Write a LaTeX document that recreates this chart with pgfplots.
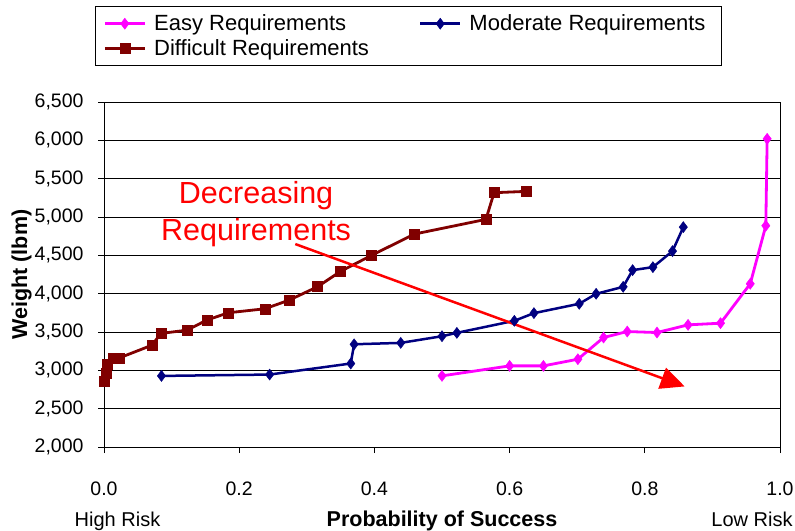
\documentclass[border=0pt]{standalone}
\usepackage{fontspec}
\setmainfont{Liberation Sans}
\usepackage{pgfplots}
\pgfplotsset{compat=1.18}
\usetikzlibrary{arrows.meta}
\definecolor{easyc}{HTML}{FF00FF}
\definecolor{modc}{HTML}{000080}
\definecolor{difc}{HTML}{800000}
\begin{document}
\begin{tikzpicture}
\begin{axis}[
  width=676bp, height=345bp, scale only axis,
  xmin=0, xmax=1, ymin=2000, ymax=6500,
  xtick={0,0.2,0.4,0.6,0.8,1.0},
  ytick={2000,2500,3000,3500,4000,4500,5000,5500,6000,6500},
  /pgf/number format/assume math mode=true,
  xticklabel style={/pgf/number format/fixed, /pgf/number format/fixed zerofill, /pgf/number format/precision=1, yshift=-25bp},
  yticklabel style={/pgf/number format/1000 sep={,}, xshift=-11bp},
  tick label style={font=\fontsize{19.5bp}{24bp}\selectfont},
  tick align=outside, tick pos=left, major tick length=6bp,
  ymajorgrids, grid style={black, line width=0.8bp},
  axis line style={black, line width=0.8bp},
  every tick/.style={black, line width=0.8bp},
  xlabel={\bfseries Probability of Success},
  xlabel style={at={(axis description cs:0.5,0)}, anchor=base, yshift=-79bp, font=\fontsize{21.5bp}{24bp}\selectfont},
  ylabel={\bfseries Weight (lbm)},
  ylabel style={at={(axis description cs:-0.122,0.5)}, anchor=center, font=\fontsize{21.5bp}{24bp}\selectfont},
  legend columns=2,
  legend cell align=left,
  legend style={at={(rel axis cs:-0.0133,1.278)}, anchor=north west, draw=black, line width=0.8bp,
    font=\fontsize{22bp}{26bp}\selectfont, inner xsep=8bp, inner ysep=5bp,
    nodes={inner xsep=8bp, inner ysep=3.5bp},
    /tikz/every even column/.append style={column sep=42bp}},
  legend image code/.code={\draw[mark repeat=2, mark phase=2] plot coordinates {(0bp,0bp) (20bp,0bp) (40bp,0bp)};},
]
\addplot[easyc, line width=2.8bp, mark=diamond*, mark size=5.5bp, mark options={solid, fill=easyc, line width=0.5bp}] coordinates {
(0.500,2928) (0.600,3058) (0.650,3058) (0.701,3145) (0.739,3428) (0.774,3506) (0.818,3493) (0.864,3593) (0.912,3615) (0.956,4129) (0.979,4886) (0.981,6020)};
\addlegendentry{Easy Requirements}
\addplot[modc, line width=2.5bp, mark=diamond*, mark size=5.5bp, mark options={solid, fill=modc, line width=0.5bp}] coordinates {
(0.085,2927) (0.245,2945) (0.365,3089) (0.370,3340) (0.439,3358) (0.500,3445) (0.522,3489) (0.607,3646) (0.636,3746) (0.703,3868) (0.728,3998) (0.768,4089) (0.782,4307) (0.812,4346) (0.841,4555) (0.857,4868)};
\addlegendentry{Moderate Requirements}
\addplot[difc, line width=2.8bp, mark=square*, mark size=5bp, mark options={solid, fill=difc, line width=0.5bp}] coordinates {
(0.001,2862) (0.003,2966) (0.005,3080) (0.013,3163) (0.023,3163) (0.071,3328) (0.084,3481) (0.123,3524) (0.152,3655) (0.184,3751) (0.238,3803) (0.274,3916) (0.316,4091) (0.350,4291) (0.395,4496) (0.459,4777) (0.565,4969) (0.577,5317) (0.624,5334)};
\addlegendentry{Difficult Requirements}
\draw[red, line width=2.5bp, -{Triangle[length=24bp, width=22bp]}] (axis cs:0.283,4647) -- (axis cs:0.859,2790);
\node[red, anchor=base, font=\fontsize{30.5bp}{34bp}\selectfont] at (axis cs:0.225,5180) {Decreasing};
\node[red, anchor=base, font=\fontsize{30.5bp}{34bp}\selectfont] at (axis cs:0.225,4699) {Requirements};
\coordinate (sw) at (rel axis cs:0,0);
\coordinate (ne) at (rel axis cs:1,1);
\end{axis}
\node[anchor=base, font=\fontsize{20bp}{24bp}\selectfont] at ([shift={(13.5bp,-79bp)}]sw) {High Risk};
\node[anchor=base, font=\fontsize{20bp}{24bp}\selectfont] at ([shift={(648bp,-79bp)}]sw) {Low Risk};
\pgfresetboundingbox
\path ([shift={(-104bp,-84bp)}]sw) rectangle ([shift={(15bp,102bp)}]ne);
\end{tikzpicture}
\end{document}
